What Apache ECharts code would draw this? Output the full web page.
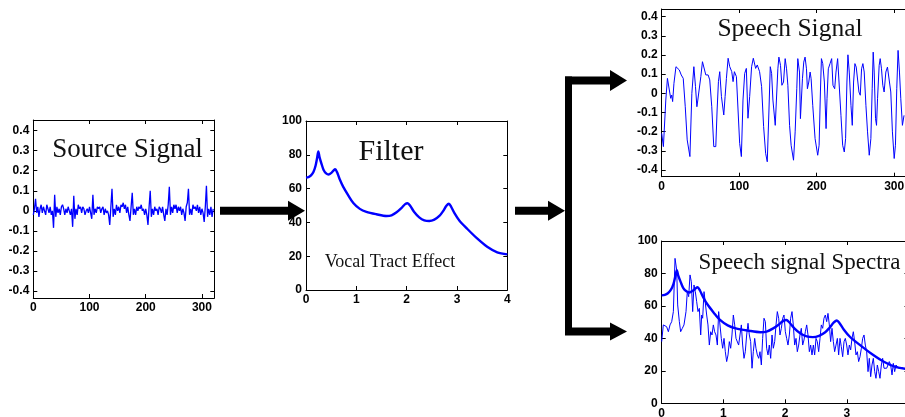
<!DOCTYPE html>
<html>
<head>
<meta charset="utf-8">
<script src="https://cdn.jsdelivr.net/npm/echarts@6/dist/echarts.min.js"></script>
<style>
  html, body { margin: 0; padding: 0; background: #ffffff; }
  #chart { width: 905px; height: 417px; }
</style>
</head>
<body>
<div id="chart"></div>
<script>
// Source (glottal excitation) signal: [sample, amplitude]
const sourceSignal = [
  [0,-0.02],[2,0.01],[4,0.06],[6,-0.01],[8,0.02],[10,-0.03],[12,0.01],[14,0.03],[16,-0.01],[18,0.02],
  [20,0.00],[22,-0.02],[24,0.03],[26,0.01],[28,-0.01],[30,0.02],[32,-0.02],[34,0.00],[36,-0.085],[38,0.08],
  [40,-0.03],[42,0.02],[44,-0.01],[46,0.01],[48,-0.02],[50,0.02],[52,0.03],[54,0.01],[56,-0.02],[58,0.01],
  [60,-0.01],[62,0.02],[64,0.00],[66,-0.02],[68,0.01],[70,-0.08],[72,0.075],[74,-0.04],[76,0.01],[78,-0.02],
  [80,0.03],[82,0.01],[84,0.02],[86,-0.01],[88,0.02],[90,0.01],[92,-0.02],[94,0.00],[96,0.01],[98,-0.01],
  [100,0.02],[102,-0.01],[104,-0.04],[106,0.08],[108,-0.02],[110,0.01],[112,-0.01],[114,0.02],[116,0.01],[118,0.02],
  [120,-0.01],[122,0.01],[124,0.02],[126,-0.02],[128,0.01],[130,-0.01],[132,0.00],[134,-0.02],[136,-0.07],[138,0.02],
  [140,0.11],[142,-0.03],[144,0.01],[146,-0.02],[148,0.03],[150,0.00],[152,0.02],[154,-0.01],[156,0.03],[158,0.02],
  [160,0.04],[162,0.01],[164,0.03],[166,-0.01],[168,0.02],[170,-0.02],[172,-0.05],[174,0.02],[176,0.09],[178,-0.02],
  [180,0.01],[182,-0.02],[184,0.02],[186,0.00],[188,0.02],[190,0.01],[192,0.03],[194,0.00],[196,0.01],[198,-0.02],
  [200,0.01],[202,-0.02],[204,-0.07],[206,0.02],[208,0.10],[210,-0.03],[212,0.01],[214,-0.02],[216,0.02],[218,0.00],
  [220,0.01],[222,-0.02],[224,0.02],[226,0.01],[228,-0.01],[230,0.02],[232,-0.02],[234,-0.05],[236,0.01],[238,-0.02],
  [240,0.03],[242,0.12],[244,-0.02],[246,0.02],[248,-0.01],[250,0.03],[252,0.01],[254,0.03],[256,-0.01],[258,0.02],
  [260,0.00],[262,0.02],[264,-0.02],[266,0.01],[268,-0.01],[270,-0.05],[272,0.02],[274,0.04],[276,0.11],[278,-0.02],
  [280,0.01],[282,-0.02],[284,0.03],[286,0.01],[288,0.02],[290,0.00],[292,0.03],[294,-0.01],[296,0.02],[298,-0.02],
  [300,0.01],[302,-0.01],[304,-0.055],[306,0.02],[308,0.125],[310,-0.03],[312,0.01],[314,-0.02],[316,0.02],[318,-0.03],
  [320,0.01]
];

// Vocal tract filter response: [frequency kHz, gain dB]
const filterResponse = [
  [0,66.5],[0.05,66.8],[0.1,67.8],[0.15,70],[0.19,73.5],[0.22,78],[0.245,82],[0.27,78.5],[0.31,74.5],[0.35,71],
  [0.4,69],[0.45,68.3],[0.5,69.2],[0.55,70.8],[0.58,71.5],[0.62,69.5],[0.67,65.5],[0.74,61],[0.84,56],[0.94,51.5],
  [1.07,48],[1.2,46.2],[1.4,44.8],[1.6,43.8],[1.7,44.2],[1.8,46],[1.9,48.6],[1.97,50.8],[2.02,51.3],[2.07,49.8],
  [2.15,46.2],[2.25,43],[2.35,41.2],[2.45,40.8],[2.55,41.6],[2.65,43.8],[2.72,46.5],[2.79,49.8],[2.84,51],[2.88,49.5],
  [2.95,45.5],[3.05,41],[3.2,36.3],[3.4,30.5],[3.6,25.6],[3.8,22.3],[4.0,21.1]
];

// Resulting speech waveform: [sample, amplitude]
const speechSignal = [
  [0,-0.209],[2.2,-0.278],[5.3,-0.035],[7.4,0.078],[9.9,0.078],[11.6,-0.026],[12.9,-0.009],[14.1,-0.043],[15.8,0.052],[18.4,0.139],
  [20.5,0.148],[22.7,0.122],[25.2,0.096],[27.8,0.078],[30.4,-0.07],[32.9,-0.243],[36.4,-0.33],[38.9,0],[41.5,0.139],[43.6,0.035],
  [45.4,-0.07],[46.6,-0.035],[47.9,-0.043],[50.5,0.087],[52.6,0.165],[54.8,0.157],[56.9,0.096],[59.9,0.096],[62.0,0.07],[64.6,-0.07],
  [67.2,-0.278],[69.8,-0.278],[71.5,-0.087],[73.2,0.061],[74.9,0.113],[77.1,-0.017],[80.1,-0.113],[81.8,-0.017],[83.5,0.078],[85.7,0.183],
  [87.8,0.139],[90.4,0.113],[92.1,0.061],[93.8,0.113],[96.4,0.087],[98.5,-0.087],[100.6,-0.261],[102.8,-0.33],[104.9,-0.035],[107.1,0.104],
  [109.2,0.13],[111.3,-0.13],[113.5,-0.017],[116.0,0.139],[118.2,0.183],[121.2,0.13],[123.3,0.148],[126.3,0.113],[128.9,0.035],[131.5,-0.174],
  [134.1,-0.313],[136.2,-0.357],[138.4,-0.087],[140.1,0.139],[141.8,0.104],[143.5,-0.035],[146.5,-0.167],[149.9,0.128],[151.2,0.189],[153.3,0.146],
  [155.1,0.042],[157.2,0.059],[159.3,0.181],[161.1,0.128],[162.8,0.042],[165.0,-0.167],[167.0,-0.271],[170.1,-0.349],[172.2,-0.201],[174.3,0.024],
  [175.6,0.181],[177.8,0.111],[179.0,-0.132],[179.9,-0.141],[181.6,0.076],[183.3,0.163],[185.0,0.189],[186.8,0.128],[188.0,0.024],[189.8,0.059],
  [191.5,0.111],[192.8,0.076],[194.9,-0.0625],[197.9,-0.236],[201.3,-0.323],[203.1,-0.271],[204.8,0.007],[206.1,0.181],[207.8,0.155],[209.9,0.059],
  [212.1,-0.184],[213.3,-0.028],[215.0,0.128],[217.2,0.155],[219.3,0.181],[221.0,0.042],[223.2,0.024],[224.9,0.111],[227.0,0.181],[228.8,0.059],
  [231.3,-0.115],[233.5,-0.271],[235.6,-0.306],[237.3,-0.236],[239.0,0.059],[240.3,0.201],[242.0,0.111],[244.2,-0.0625],[245.9,-0.167],[247.6,0.059],
  [249.3,0.155],[251.0,0.137],[252.8,0.146],[254.5,0.007],[256.2,-0.01],[257.9,0.128],[259.6,0.155],[261.3,0.111],[263.5,-0.0625],[265.6,-0.201],
  [267.8,-0.323],[269.9,-0.236],[271.6,0.024],[272.9,0.215],[274.2,0.111],[275.9,-0.132],[277.2,-0.167],[278.5,-0.028],[280.6,0.146],[281.9,0.181],
  [283.6,0.128],[285.3,0.042],[287.0,0.007],[289.2,0.111],[291.3,0.137],[293.5,0.128],[295.6,0.007],[297.7,-0.201],[300.0,-0.34],[301.6,-0.271],
  [303.3,0.024],[305.0,0.224],[306.8,0.111],[308.5,-0.028],[310.6,-0.167],[312.7,-0.115]
];

// Measured speech spectrum: [frequency kHz, level dB]
const speechSpectrum = [
  [0.000,38.0],[0.026,48.3],[0.053,48.3],[0.080,47.2],[0.108,44.1],[0.135,48.3],[0.162,50.3],[0.189,56.5],[0.216,89.3],[0.243,82.1],
  [0.259,60.6],[0.286,50.3],[0.307,44.1],[0.334,46.2],[0.361,48.3],[0.394,56.5],[0.415,68.8],[0.437,65.7],[0.459,79.1],[0.480,74.9],
  [0.502,56.5],[0.523,72.9],[0.545,68.8],[0.567,62.6],[0.588,56.5],[0.610,58.5],[0.632,42.1],[0.648,54.4],[0.664,52.4],[0.686,68.8],
  [0.707,68.8],[0.729,54.4],[0.750,48.3],[0.772,35.9],[0.794,44.1],[0.815,42.1],[0.837,48.3],[0.858,44.1],[0.880,42.1],[0.902,35.9],
  [0.923,56.5],[0.945,57.5],[0.966,40.0],[0.988,33.9],[1.010,40.0],[1.031,31.8],[1.053,25.7],[1.075,29.8],[1.096,38.0],[1.118,33.9],
  [1.139,42.1],[1.161,54.4],[1.183,48.3],[1.204,40.0],[1.226,39.0],[1.247,35.9],[1.269,42.1],[1.291,48.3],[1.312,35.9],[1.334,27.7],
  [1.355,31.8],[1.377,42.1],[1.399,49.3],[1.420,42.1],[1.442,38.0],[1.464,21.6],[1.485,31.8],[1.507,40.0],[1.528,33.9],[1.550,29.8],
  [1.572,27.7],[1.593,31.8],[1.615,23.6],[1.636,40.0],[1.658,52.4],[1.680,50.3],[1.701,33.9],[1.723,29.8],[1.744,35.9],[1.766,27.7],
  [1.788,42.1],[1.809,33.9],[1.831,38.0],[1.853,48.3],[1.874,56.5],[1.896,52.4],[1.917,42.1],[1.939,46.2],[1.961,52.4],[1.982,54.4],
  [2.004,44.1],[2.025,40.0],[2.047,35.9],[2.069,42.1],[2.090,52.4],[2.112,56.5],[2.133,48.3],[2.155,35.9],[2.177,40.0],[2.198,31.8],
  [2.220,35.9],[2.241,42.1],[2.263,46.2],[2.285,35.9],[2.306,39.0],[2.328,44.1],[2.350,48.3],[2.371,42.1],[2.393,31.8],[2.414,35.9],
  [2.436,29.8],[2.458,35.9],[2.479,29.8],[2.501,40.0],[2.522,38.0],[2.544,31.8],[2.566,40.0],[2.587,48.3],[2.609,46.2],[2.630,52.4],
  [2.652,54.4],[2.674,50.3],[2.695,55.4],[2.717,48.3],[2.738,38.0],[2.760,46.2],[2.782,38.0],[2.803,31.8],[2.825,35.9],[2.847,40.0],
  [2.868,29.8],[2.890,40.0],[2.911,34.9],[2.933,28.7],[2.955,38.0],[2.976,40.0],[2.998,35.9],[3.019,29.8],[3.041,35.9],[3.063,32.9],
  [3.084,40.0],[3.106,44.1],[3.127,38.0],[3.149,29.8],[3.171,31.8],[3.192,25.7],[3.214,28.7],[3.236,33.9],[3.257,40.0],[3.279,42.1],
  [3.300,35.9],[3.322,31.8],[3.344,19.5],[3.365,27.7],[3.387,16.4],[3.408,23.6],[3.430,27.7],[3.452,19.5],[3.473,15.4],[3.495,23.6],
  [3.517,19.5],[3.538,15.4],[3.560,23.6],[3.581,27.7],[3.603,21.6],[3.625,22.6],[3.646,21.6],[3.668,21.6],[3.689,25.7],[3.711,23.6],
  [3.733,17.5],[3.754,24.6],[3.776,19.5],[3.797,23.6],[3.819,22.6],[3.841,21.6],[3.862,21.6],[3.884,22.0],[3.916,21.6]
];

// Tick positions
const sampleTicks = [0, 100, 200, 300];
const amplitudeTicks = [-0.4, -0.3, -0.2, -0.1, 0, 0.1, 0.2, 0.3, 0.4];
const freqTicks = [0, 1, 2, 3, 4];
const dbTicks = [0, 20, 40, 60, 80, 100];

// Panel titles
const titles = ['Source Signal', 'Filter', 'Vocal Tract Effect', 'Speech Signal', 'Speech signal Spectra'];

const BLUE = '#0000ff';
const SANS = 'Liberation Sans, Arial, sans-serif';
const SERIF = 'Liberation Serif, Times New Roman, serif';

function axisPair(gridIndex, min, max, ticks, dim) {
  const first = dim === 'x' ? 'bottom' : 'left';
  const second = dim === 'x' ? 'top' : 'right';
  const base = {
    type: 'value', gridIndex: gridIndex, min: min, max: max,
    axisLine: { show: true, onZero: false, lineStyle: { color: '#000', width: 1 } },
    axisTick: { show: true, inside: true, length: 4, customValues: ticks, lineStyle: { color: '#000', width: 1 } },
    splitLine: { show: false }
  };
  return [
    Object.assign({}, base, {
      position: first,
      axisLabel: {
        show: true, customValues: ticks, margin: dim === 'x' ? 4 : 4,
        color: '#000', fontFamily: SANS, fontWeight: 'bold', fontSize: 12,
        showMinLabel: true, showMaxLabel: true
      }
    }),
    Object.assign({}, base, { position: second, axisLabel: { show: false } })
  ];
}

const grids = [
  { left: 33.3, top: 120, width: 181, height: 178 },     // source
  { left: 306, top: 121, width: 201.3, height: 169 },    // filter
  { left: 661.7, top: 9, width: 248, height: 167.7 },    // speech waveform
  { left: 661.7, top: 241, width: 246.8, height: 162.3 } // spectrum
].map(g => Object.assign({ show: false, containLabel: false, outerBoundsMode: 'none' }, g));

const xAxes = [].concat(
  axisPair(0, 0, 322, sampleTicks, 'x'),
  axisPair(1, 0, 4, freqTicks, 'x'),
  axisPair(2, 0, 320, sampleTicks, 'x'),
  axisPair(3, 0, 4, freqTicks, 'x')
);
const yAxes = [].concat(
  axisPair(0, -0.435, 0.453, amplitudeTicks, 'y'),
  axisPair(1, 0, 100, dbTicks, 'y'),
  axisPair(2, -0.435, 0.44, amplitudeTicks, 'y'),
  axisPair(3, 0, 100, dbTicks, 'y')
);

function lineSeries(panel, data, width, smooth) {
  return {
    type: 'line', xAxisIndex: panel * 2, yAxisIndex: panel * 2,
    data: data, showSymbol: false, symbol: 'none', smooth: smooth || false,
    clip: true, silent: true,
    lineStyle: { color: BLUE, width: width }
  };
}

function title(text, x, y, size) {
  return {
    type: 'text', x: x, y: y, silent: true, z: 10,
    style: { text: text, font: size + 'px ' + SERIF, fill: '#111', align: 'center', verticalAlign: 'middle' }
  };
}

// Block-diagram arrows
function arrow(x0, x1, headStart, yc, half, headHalf) {
  return [
    { type: 'rect', shape: { x: x0, y: yc - half, width: headStart - x0, height: half * 2 }, style: { fill: '#000' } },
    { type: 'polygon', shape: { points: [[headStart, yc - headHalf], [x1, yc], [headStart, yc + headHalf]] }, style: { fill: '#000' } }
  ];
}

const graphics = [].concat(
  arrow(220, 305, 288, 210.7, 4, 10),
  arrow(515, 565, 548, 210.7, 4, 10),
  [{ type: 'rect', shape: { x: 565, y: 76.5, width: 7, height: 258.5 }, style: { fill: '#000' } }],
  arrow(565, 627, 610, 80.5, 4, 10.5),
  arrow(565, 627, 610, 331.5, 4, 9),
  [
    title(titles[0], 127.5, 150, 27),
    title(titles[1], 391, 152, 30),
    title(titles[2], 390, 262, 18),
    title(titles[3], 790, 29, 25.5),
    title(titles[4], 799.5, 262.5, 23)
  ]
);

const chart = echarts.init(document.getElementById('chart'), null, { renderer: 'canvas' });
chart.setOption({
  animation: false,
  backgroundColor: '#ffffff',
  grid: grids,
  xAxis: xAxes,
  yAxis: yAxes,
  series: [
    lineSeries(0, sourceSignal, 1.3),
    lineSeries(1, filterResponse, 2.4, 0.3),
    lineSeries(2, speechSignal, 1),
    lineSeries(3, speechSpectrum, 1),
    lineSeries(3, filterResponse, 2.4, 0.3)
  ],
  graphic: graphics
});
</script>
</body>
</html>
